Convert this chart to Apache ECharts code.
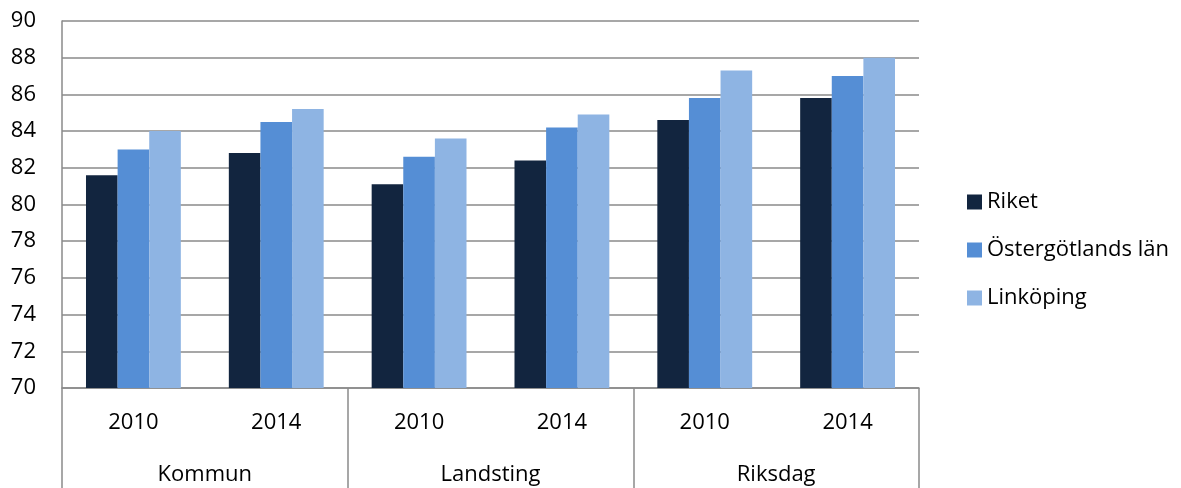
<!DOCTYPE html>
<html>
<head>
<meta charset="utf-8">
<script src="https://cdn.jsdelivr.net/npm/echarts@6/dist/echarts.min.js"></script>
<style>
html,body{margin:0;padding:0;background:#fff;}
#c{width:1181px;height:488px;}
</style>
</head>
<body>
<div id="c"></div>
<script>
var years = ['2010', '2014', '2010', '2014', '2010', '2014'];
var groups = ['Kommun', 'Landsting', 'Riksdag'];
var seriesNames = ['Riket', 'Östergötlands län', 'Linköping'];
var riket = [81.6, 82.8, 81.1, 82.4, 84.6, 85.8];
var ostergotland = [83.0, 84.5, 82.6, 84.2, 85.8, 87.0];
var linkoping = [84.0, 85.2, 83.6, 84.9, 87.3, 88.0];
var yTicks = [70, 90, 2];

var colors = ['#12253f', '#558ed5', '#8eb4e3'];
var font = '"Open Sans", sans-serif';
var chart = echarts.init(document.getElementById('c'));
var values = [riket, ostergotland, linkoping];
chart.setOption({
  animation: false,
  textStyle: {fontFamily: font},
  grid: {left: 62, right: 262, top: 21, bottom: 100},
  legend: {
    orient: 'vertical', left: 962, top: 186,
    itemWidth: 15, itemHeight: 15, itemGap: 26,
    icon: 'rect',
    textStyle: {fontFamily: font, fontSize: 22, color: '#000'},
    data: seriesNames
  },
  xAxis: [{
    type: 'category', data: years, gridIndex: 0, position: 'bottom',
    axisLine: {show: true, lineStyle: {color: '#8a8a8a', width: 1.5}},
    axisTick: {show: false},
    axisLabel: {fontFamily: font, fontSize: 22, color: '#000', margin: 24}
  }, {
    type: 'category', data: groups, gridIndex: 0, position: 'bottom',
    axisLine: {show: false},
    axisTick: {show: true, length: 100, lineStyle: {color: '#8a8a8a', width: 1.5}},
    axisLabel: {fontFamily: font, fontSize: 22, color: '#000', margin: 76}
  }],
  yAxis: {
    type: 'value', min: yTicks[0], max: yTicks[1], interval: yTicks[2],
    axisLine: {show: true, lineStyle: {color: '#8a8a8a', width: 1.5}},
    axisTick: {show: false},
    splitLine: {lineStyle: {color: '#8a8a8a', width: 1.5}},
    axisLabel: {fontFamily: font, fontSize: 22, color: '#000', margin: 26}
  },
  series: seriesNames.map(function (n, i) {
    return {
      name: n, type: 'bar', xAxisIndex: 0, data: values[i],
      barGap: '0%', barCategoryGap: '33.6%',
      itemStyle: {color: colors[i]}
    };
  })
});
</script>
</body>
</html>
